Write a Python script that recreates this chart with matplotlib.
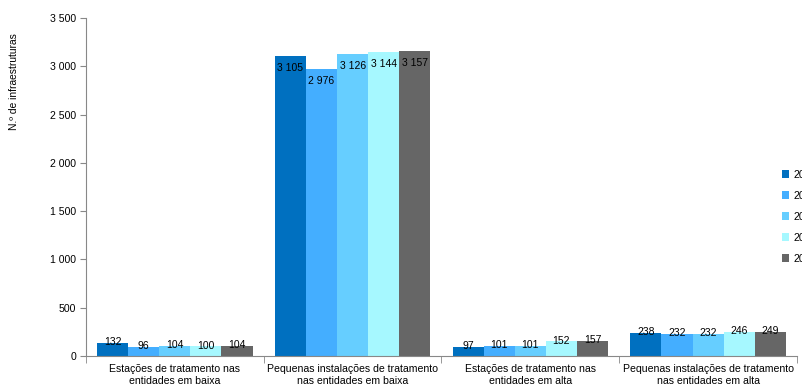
import numpy as np
import matplotlib.pyplot as plt
from matplotlib.ticker import FuncFormatter

plt.rcParams['font.family'] = ['Liberation Sans', 'DejaVu Sans']

categories = ['Estações de tratamento nas\nentidades em baixa',
              'Pequenas instalações de tratamento\nnas entidades em baixa',
              'Estações de tratamento nas\nentidades em alta',
              'Pequenas instalações de tratamento\nnas entidades em alta']
years = ['2011', '2012', '2013', '2014', '2015']
values = [
    [132, 3105, 97, 238],
    [96, 2976, 101, 232],
    [104, 3126, 101, 232],
    [100, 3144, 152, 246],
    [104, 3157, 157, 249],
]
colors = ['#0070C0', '#44AEFF', '#66CEFF', '#A6F8FF', '#666666']


def fmt(v, pos=None):
    return '{:,}'.format(int(v)).replace(',', ' ')


def main():
    fig = plt.figure(figsize=(8.03, 3.87), dpi=100)
    ax = fig.add_axes([0.107, 0.080, 0.8855, 0.8735])

    x = np.arange(len(categories))
    n = len(years)
    w = 0.875 / n
    for i, (yr, vals) in enumerate(zip(years, values)):
        pos = x - 0.4375 + w * (i + 0.5)
        ax.bar(pos, vals, width=w, color=colors[i], label=yr, zorder=2)
        for p, v in zip(pos, vals):
            if v > 1000:
                ax.annotate(fmt(v), (p, v), xytext=(0, -5), textcoords='offset points',
                            ha='center', va='top', fontsize=7.5)
            else:
                ax.annotate(fmt(v), (p, v), xytext=(0, -3), textcoords='offset points',
                            ha='center', va='bottom', fontsize=7.5)

    ax.set_xlim(-0.5, len(categories) - 0.5)
    ax.set_ylim(0, 3500)
    ax.set_yticks(np.arange(0, 3501, 500))
    ax.yaxis.set_major_formatter(FuncFormatter(fmt))
    ax.set_xticks(x)
    ax.set_xticklabels(categories, fontsize=7.6)
    ax.set_xticks(np.arange(-0.5, len(categories), 1), minor=True)
    ax.tick_params(axis='x', which='major', length=0, pad=6)
    ax.tick_params(axis='x', which='minor', length=5, color='#888888')
    ax.tick_params(axis='y', length=4, color='#888888', labelsize=7.6, pad=3)

    for s in ['top', 'right']:
        ax.spines[s].set_visible(False)
    for s in ['left', 'bottom']:
        ax.spines[s].set_color('#888888')
        ax.spines[s].set_linewidth(0.8)

    fig.text(0.018, 0.79, 'N.º de infraestruturas', rotation=90,
             ha='center', va='center', fontsize=7.4)

    # legend sits at the right edge, partly outside the figure as in the source
    fig.legend(loc='center left', bbox_to_anchor=(0.962, 0.44), frameon=False,
               fontsize=7.6, handlelength=0.7, handleheight=0.7,
               handletextpad=0.4, labelspacing=1.05)

    fig.savefig('out.png', dpi=100)


if __name__ == '__main__':
    main()
